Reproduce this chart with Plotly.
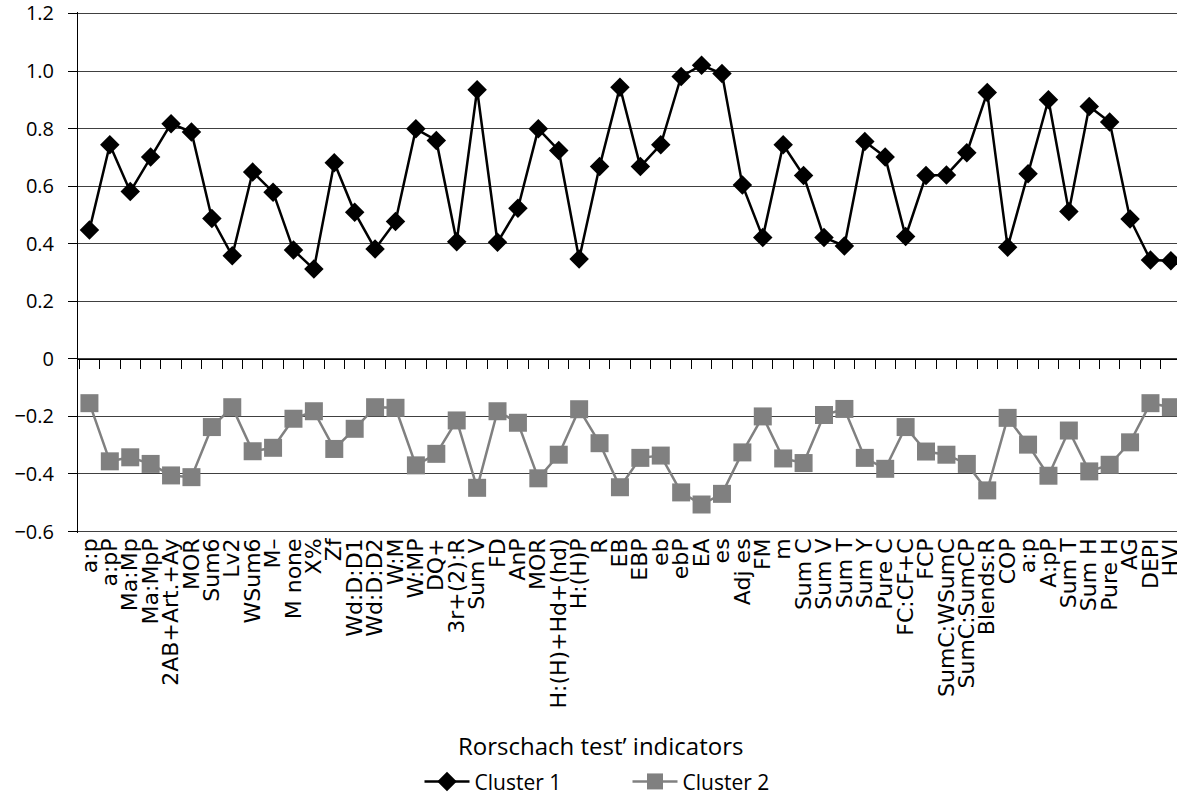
import plotly.graph_objects as go

categories = ["a:p", "a:pP", "Ma:Mp", "Ma:MpP", "2AB+Art.+Ay", "MOR", "Sum6", "Lv2", "WSum6", "M–",
              "M none", "X%", "Zf", "Wd:D:D1", "Wd:D:D2", "W:M", "W:MP", "DQ+", "3r+(2):R", "Sum V",
              "FD", "AnP", "MOR", "H:(H)+Hd+(hd)", "H:(H)P", "R", "EB", "EBP", "eb", "ebP",
              "EA", "es", "Adj es", "FM", "m", "Sum C", "Sum V", "Sum T", "Sum Y", "Pure C",
              "FC:CF+C", "FCP", "SumC:WSumC", "SumC:SumCP", "Blends:R", "COP", "a:p", "A:pP", "Sum T", "Sum H",
              "Pure H", "AG", "DEPI", "HVI"]

cluster1 = [0.448, 0.744, 0.581, 0.701, 0.817, 0.788, 0.488, 0.358, 0.649, 0.579,
            0.378, 0.312, 0.681, 0.509, 0.382, 0.477, 0.799, 0.759, 0.407, 0.935,
            0.405, 0.523, 0.799, 0.724, 0.347, 0.668, 0.944, 0.668, 0.744, 0.981,
            1.020, 0.991, 0.604, 0.422, 0.744, 0.637, 0.422, 0.392, 0.755, 0.701,
            0.425, 0.637, 0.639, 0.716, 0.925, 0.388, 0.643, 0.900, 0.512, 0.877,
            0.823, 0.486, 0.343, 0.341]

cluster2 = [-0.154, -0.356, -0.342, -0.365, -0.405, -0.411, -0.237, -0.168, -0.321, -0.309,
            -0.208, -0.182, -0.313, -0.243, -0.168, -0.170, -0.370, -0.330, -0.214, -0.448,
            -0.182, -0.222, -0.415, -0.333, -0.175, -0.293, -0.446, -0.344, -0.336, -0.464,
            -0.506, -0.469, -0.325, -0.200, -0.346, -0.362, -0.195, -0.174, -0.344, -0.382,
            -0.237, -0.322, -0.333, -0.365, -0.457, -0.205, -0.298, -0.406, -0.249, -0.391,
            -0.368, -0.290, -0.154, -0.168]

y_ticks = [1.2, 1.0, 0.8, 0.6, 0.4, 0.2, 0, -0.2, -0.4, -0.6]
y_ticktext = ["1.2", "1.0", "0.8", "0.6", "0.4", "0.2", "0", "−0.2", "−0.4", "−0.6"]

n = len(categories)
xs = list(range(n))
FONT = "Open Sans"
XFONT = "DejaVu Sans"

fig = go.Figure()
fig.add_trace(go.Scatter(
    x=xs, y=cluster1, name="Cluster 1", mode="lines+markers",
    line=dict(color="black", width=2.5),
    marker=dict(symbol="diamond", size=15, color="black"),
))
fig.add_trace(go.Scatter(
    x=xs, y=cluster2, name="Cluster 2", mode="lines+markers",
    line=dict(color="#808080", width=2.5),
    marker=dict(symbol="square", size=18, color="#808080"),
))
# helper trace for the zero-line axis (category boundary ticks)
fig.add_trace(go.Scatter(x=xs, y=[None] * n, xaxis="x2", showlegend=False,
                         hoverinfo="skip", mode="lines"))

xrange = [-0.56, 53.3]
ymin, ymax = y_ticks[-1], y_ticks[0]
pad = 0.005
fig.update_layout(
    width=1177, height=796,
    paper_bgcolor="white", plot_bgcolor="white",
    margin=dict(l=78, r=0, t=11.5, b=263, autoexpand=False),
    font=dict(family=FONT, color="black"),
    xaxis=dict(
        range=xrange, tickmode="array", tickvals=xs, ticktext=categories,
        tickangle=-90, ticks="", showgrid=False, zeroline=False, showline=False,
        automargin=False, ticklabeloverflow="allow",
        tickfont=dict(size=22, family=XFONT, color="black"),
    ),
    xaxis2=dict(
        overlaying="x", matches="x", anchor="free",
        position=(0 - (ymin - pad)) / ((ymax + pad) - (ymin - pad)),
        side="bottom", tickmode="array", tickvals=[i - 0.5 for i in range(n + 1)],
        ticks="outside", ticklen=9, tickcolor="black", tickwidth=1,
        showticklabels=False, showline=True, linecolor="black", linewidth=1,
        showgrid=False, zeroline=False, automargin=False,
    ),
    yaxis=dict(
        range=[ymin - pad, ymax + pad], tickmode="array", tickvals=y_ticks, ticktext=y_ticktext,
        showgrid=True, gridcolor="#404040", gridwidth=1, zeroline=False,
        showline=True, linecolor="black", linewidth=1,
        ticks="outside", ticklen=9, tickcolor="black", ticklabelstandoff=10,
        automargin=False, ticklabeloverflow="allow",
        tickfont=dict(size=20, family=FONT, color="black"),
    ),
    legend=dict(
        orientation="h", x=0.50, xanchor="center", y=-0.4775, yanchor="middle",
        font=dict(size=21, family=FONT, color="black"), itemwidth=45,
        entrywidth=148,
    ),
    annotations=[dict(
        text="Rorschach test’ indicators", xref="paper", yref="paper",
        x=0.475, y=-0.408, xanchor="center", yanchor="middle", showarrow=False,
        font=dict(size=24, family=FONT, color="black"),
    )],
)

fig.write_html("out.html", config={"displayModeBar": False},
               post_script="document.body.style.margin='0';")
